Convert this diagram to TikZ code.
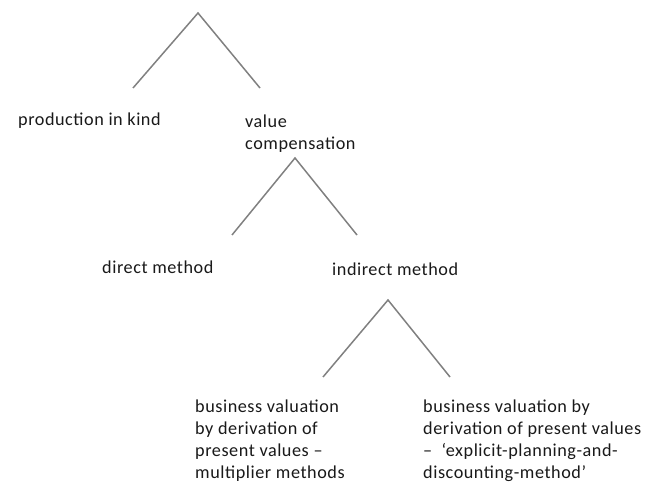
\documentclass[tikz,border=0pt]{standalone}
\usepackage{fontspec}
\setmainfont[LetterSpace=3]{Carlito}
\tikzset{
  branch/.style={draw=black!50, line width=1.5pt},
  leaf/.style={anchor=base west, inner sep=0pt, align=left, text=black!90,
    font=\fontsize{18.2}{22}\selectfont}
}
\begin{document}
\begin{tikzpicture}[x=1pt,y=-1pt]
      \useasboundingbox (0,0) rectangle (651,484);
      \draw
        (198,13) coordinate (t1)
        (133,88) coordinate (l1)
        (260,88) coordinate (r1)
        (295,158) coordinate (t2)
        (232,235) coordinate (l2)
        (357,235) coordinate (r2)
        (388,300) coordinate (t3)
        (323,377) coordinate (l3)
        (450,377) coordinate (r3);
      % anchor is the baseline of the last line
      \node[leaf] (kind) at (18,126) {production in kind};
      \node[leaf] (value) at (245,150) {value\\compensation};
      \node[leaf] (direct) at (102,273) {direct method};
      \node[leaf] (indirect) at (332,275) {indirect method};
      \node[leaf] (multi) at (195,478) {business valuation\\by derivation of\\present values --\\multiplier methods};
      \node[leaf] (dcf) at (423,478) {business valuation by\\derivation of present values\\-- \ `explicit-planning-and-\\discounting-method'};
      \begin{scope}[branch]
        \draw (l1) -- (t1) -- (r1);
        \draw (l2) -- (t2) -- (r2);
        \draw (l3) -- (t3) -- (r3);
      \end{scope}
    \end{tikzpicture}
\end{document}
